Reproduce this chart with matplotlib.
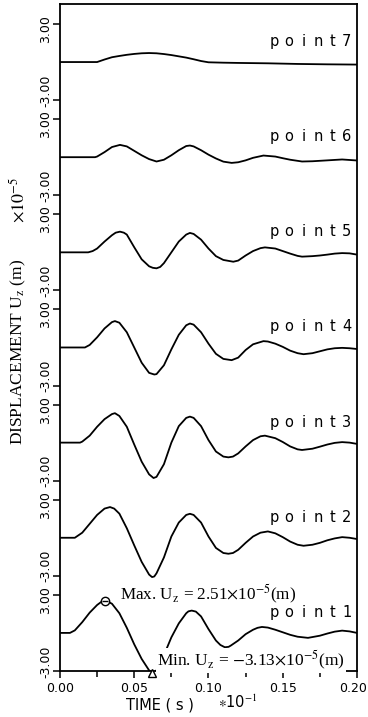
import numpy as np
import matplotlib.pyplot as plt
from matplotlib.transforms import ScaledTranslation

plt.rcParams['mathtext.fontset'] = 'stix'

# time (s) and vertical displacement (x1e-5 m), one trace per point
t1 = [0, 0.0067, 0.010, 0.015, 0.020, 0.025, 0.0275, 0.030, 0.0325, 0.035, 0.040, 0.045, 0.050,
      0.055, 0.060, 0.062, 0.0635, 0.065, 0.070, 0.075, 0.080, 0.085, 0.0865, 0.0887, 0.0915,
      0.095, 0.100, 0.105, 0.108, 0.111, 0.1135, 0.115, 0.120, 0.125, 0.130, 0.133, 0.136,
      0.140, 0.145, 0.150, 0.155, 0.160, 0.167, 0.175, 0.180, 0.185, 0.190, 0.195, 0.200]
u1 = [0, 0, 0.2, 0.85, 1.6, 2.2, 2.42, 2.51, 2.45, 2.3, 1.55, 0.4, -0.9,
      -2.05, -2.95, -3.13, -3.1, -2.95, -1.75, -0.35, 0.75, 1.55, 1.7, 1.76, 1.68,
      1.3, 0.3, -0.6, -0.95, -1.13, -1.1, -1.0, -0.6, -0.1, 0.25, 0.4, 0.47,
      0.42, 0.25, 0.05, -0.15, -0.3, -0.39, -0.22, -0.05, 0.1, 0.18, 0.12, 0.0]

t2 = [0, 0.010, 0.015, 0.020, 0.025, 0.030, 0.0337, 0.0365, 0.040, 0.045, 0.050, 0.055, 0.060,
      0.062, 0.0635, 0.065, 0.070, 0.075, 0.080, 0.085, 0.0875, 0.090, 0.095, 0.100, 0.105,
      0.110, 0.1134, 0.1165, 0.120, 0.125, 0.130, 0.135, 0.140, 0.145, 0.150, 0.155, 0.160,
      0.164, 0.170, 0.175, 0.180, 0.185, 0.190, 0.195, 0.200]
u2 = [0, 0, 0.4, 1.1, 1.8, 2.3, 2.42, 2.3, 1.9, 0.75, -0.6, -1.9, -2.9,
      -3.1, -3.05, -2.8, -1.55, 0.1, 1.2, 1.8, 1.89, 1.8, 1.2, 0.1, -0.8,
      -1.2, -1.26, -1.2, -0.95, -0.4, 0.1, 0.4, 0.5, 0.35, 0.05, -0.3, -0.55,
      -0.63, -0.55, -0.4, -0.2, -0.05, 0.05, 0.0, -0.1]

t3 = [0, 0.0135, 0.015, 0.020, 0.025, 0.030, 0.035, 0.037, 0.040, 0.045, 0.050, 0.055, 0.060,
      0.063, 0.065, 0.070, 0.075, 0.080, 0.085, 0.0875, 0.090, 0.095, 0.100, 0.105, 0.110,
      0.1134, 0.1165, 0.120, 0.125, 0.130, 0.135, 0.138, 0.145, 0.150, 0.155, 0.160, 0.163,
      0.170, 0.175, 0.180, 0.185, 0.190, 0.195, 0.200]
u3 = [0, 0, 0.08, 0.55, 1.25, 1.85, 2.25, 2.32, 2.1, 1.25, -0.15, -1.5, -2.5,
      -2.79, -2.7, -1.7, 0.0, 1.3, 1.95, 2.05, 1.95, 1.3, 0.2, -0.7, -1.1,
      -1.16, -1.1, -0.85, -0.3, 0.2, 0.5, 0.55, 0.35, 0.05, -0.3, -0.53, -0.58,
      -0.48, -0.32, -0.15, -0.02, 0.04, 0.0, -0.1]

t4 = [0, 0.0168, 0.020, 0.025, 0.030, 0.035, 0.037, 0.040, 0.045, 0.050, 0.055, 0.060, 0.0635,
      0.065, 0.070, 0.075, 0.080, 0.085, 0.0875, 0.090, 0.095, 0.100, 0.105, 0.110, 0.1156,
      0.120, 0.125, 0.130, 0.137, 0.140, 0.145, 0.150, 0.155, 0.160, 0.164, 0.170, 0.175,
      0.180, 0.185, 0.190, 0.195, 0.200]
u4 = [0, 0, 0.2, 0.8, 1.5, 2.0, 2.08, 1.95, 1.2, 0.0, -1.2, -2.0, -2.13,
      -2.1, -1.4, -0.15, 1.0, 1.75, 1.89, 1.8, 1.2, 0.3, -0.5, -0.9, -1.0,
      -0.8, -0.2, 0.25, 0.5, 0.47, 0.3, 0.05, -0.25, -0.45, -0.53, -0.45, -0.3,
      -0.15, -0.06, -0.03, -0.06, -0.12]

t5 = [0, 0.019, 0.022, 0.025, 0.030, 0.035, 0.0375, 0.0404, 0.043, 0.045, 0.050, 0.055, 0.060,
      0.0625, 0.065, 0.0675, 0.070, 0.075, 0.080, 0.085, 0.0875, 0.090, 0.095, 0.100, 0.105,
      0.110, 0.1167, 0.120, 0.125, 0.130, 0.135, 0.138, 0.145, 0.150, 0.155, 0.160, 0.163,
      0.170, 0.175, 0.180, 0.185, 0.190, 0.195, 0.200]
u5 = [0, 0, 0.1, 0.3, 0.85, 1.35, 1.55, 1.63, 1.55, 1.4, 0.4, -0.55, -1.1,
      -1.22, -1.26, -1.15, -0.85, 0.0, 0.85, 1.4, 1.53, 1.45, 1.0, 0.3, -0.3,
      -0.6, -0.74, -0.65, -0.25, 0.1, 0.33, 0.39, 0.3, 0.1, -0.1, -0.28, -0.34,
      -0.3, -0.25, -0.18, -0.1, -0.06, -0.08, -0.18]

t6 = [0, 0.0236, 0.025, 0.030, 0.035, 0.0404, 0.045, 0.050, 0.055, 0.060, 0.065, 0.070, 0.075,
      0.080, 0.085, 0.0875, 0.090, 0.095, 0.100, 0.105, 0.110, 0.1156, 0.120, 0.125, 0.130,
      0.137, 0.145, 0.150, 0.155, 0.163, 0.170, 0.180, 0.190, 0.200]
u6 = [0, 0, 0.05, 0.4, 0.8, 0.97, 0.85, 0.5, 0.15, -0.15, -0.34, -0.2, 0.15,
      0.55, 0.88, 0.92, 0.85, 0.55, 0.2, -0.1, -0.35, -0.45, -0.4, -0.25, -0.05,
      0.13, 0.05, -0.08, -0.2, -0.34, -0.32, -0.25, -0.18, -0.26]

t7 = [0, 0.025, 0.030, 0.035, 0.040, 0.045, 0.050, 0.055, 0.060, 0.065, 0.070, 0.075, 0.080,
      0.085, 0.090, 0.095, 0.100, 0.110, 0.120, 0.140, 0.160, 0.180, 0.200]
u7 = [0, 0, 0.2, 0.38, 0.48, 0.57, 0.64, 0.69, 0.71, 0.69, 0.63, 0.55, 0.45,
      0.35, 0.22, 0.08, -0.02, -0.05, -0.07, -0.1, -0.15, -0.18, -0.2]

names = ['point1', 'point2', 'point3', 'point4', 'point5', 'point6', 'point7']
times = [t1, t2, t3, t4, t5, t6, t7]
disps = [u1, u2, u3, u4, u5, u6, u7]

x_ticks = [0.00, 0.05, 0.10, 0.15, 0.20]
x_ticklabels = ['0.00', '0.05', '0.10', '0.15', '0.20']

# each trace gets its own -3..3 band, stacked with a gap between bands
band_step = 7.5
y_lim = 3.0

fig = plt.figure(figsize=(3.68, 7.17), dpi=100)
ax = fig.add_axes([0.163, 0.0642, 0.8071, 0.9303])

for k, (t, u) in enumerate(zip(times, disps)):
    off = k * band_step
    ax.plot(t, np.array(u) + off, color='black', lw=1.3, zorder=2,
            solid_joinstyle='round', solid_capstyle='round')

ax.set_xlim(0, 0.2)
ax.set_ylim(-y_lim, (len(names) - 1) * band_step + y_lim + 1.58)

# y ticks at +-3 of every band, labels drawn by hand so they butt against each other
ytk = []
for k in range(len(names)):
    off = k * band_step
    ytk += [off - y_lim, off + y_lim]
    ax.text(-0.025, off - y_lim + 0.75, '-3.00', transform=ax.get_yaxis_transform(),
            rotation=90, ha='right', va='center', fontsize=9)
    ax.text(-0.025, off + y_lim - 0.4, '3.00', transform=ax.get_yaxis_transform(),
            rotation=90, ha='right', va='center', fontsize=9)
ax.set_yticks(ytk)
ax.set_yticklabels([])
ax.tick_params(axis='y', direction='out', length=5, width=1.1)

ax.set_xticks(x_ticks)
ax.set_xticklabels(x_ticklabels, fontsize=9)
ax.set_xticks(np.arange(0.025, 0.2, 0.05), minor=True)
ax.tick_params(axis='x', which='major', direction='out', length=5, width=1.1, pad=3)
ax.tick_params(axis='x', which='minor', direction='out', length=4, width=1.1)
# last label sits right at the figure edge, nudge it in a bit
last = ax.get_xticklabels()[-1]
last.set_transform(last.get_transform() + ScaledTranslation(-3 / 72, 0, fig.dpi_scale_trans))
for sp in ax.spines.values():
    sp.set_linewidth(1.3)


# point labels: letters spread out like the plotter font
def spaced_label(text, y, right=0.966, step=10.4):
    n = len(text)
    for i, ch in enumerate(text):
        ax.annotate(ch, xy=(right, y), xycoords=ax.get_yaxis_transform(),
                    xytext=(-(n - 1 - i) * step, 0), textcoords='offset points',
                    ha='center', va='baseline', fontsize=10.5)


for k, nm in enumerate(names):
    spaced_label(nm, k * band_step + 1.26)

# max / min markers on point1
i_max = int(np.argmax(u1))
i_min = int(np.argmin(u1))
ax.plot(t1[i_max], u1[i_max], marker='o', ms=6, mfc='white', mec='black', mew=1.0,
        zorder=3, clip_on=False)
ax.plot(t1[i_max], u1[i_max], marker='_', ms=5, mec='black', mew=1.0, zorder=4)
ax.plot(t1[i_min], u1[i_min], marker='^', ms=5.5, mfc='white', mec='black', mew=1.0,
        zorder=3, clip_on=False)

ax.text(0.0405, 3.05, r'Max. U$_\mathrm{z}$ = 2.51$\times$10$^{-5}$(m)', family='Liberation Serif',
        fontsize=12.3, ha='left', va='center', zorder=5)
ax.text(0.0653, -2.15, r'Min. U$_\mathrm{z}$ = $-$3.13$\times$10$^{-5}$(m)', family='Liberation Serif',
        fontsize=12.5, ha='left', va='center', zorder=5,
        bbox=dict(facecolor='white', edgecolor='none', pad=0.6))

# axis titles
fig.text(0.049, 0.509, r'DISPLACEMENT U$_\mathrm{z}$ (m)', rotation=90, family='Liberation Serif',
         fontsize=12.5, ha='center', va='center')
fig.text(0.049, 0.721, r'$\times10^{-5}$', rotation=90, fontsize=13, ha='center', va='center')
fig.text(0.435, 0.017, 'TIME ( s )', fontsize=10.5, ha='center', va='center')
fig.text(0.592, 0.020, r'$\ast$10$^{-1}$', fontsize=10.5, ha='left', va='center')

fig.savefig('out.png', dpi=100)
